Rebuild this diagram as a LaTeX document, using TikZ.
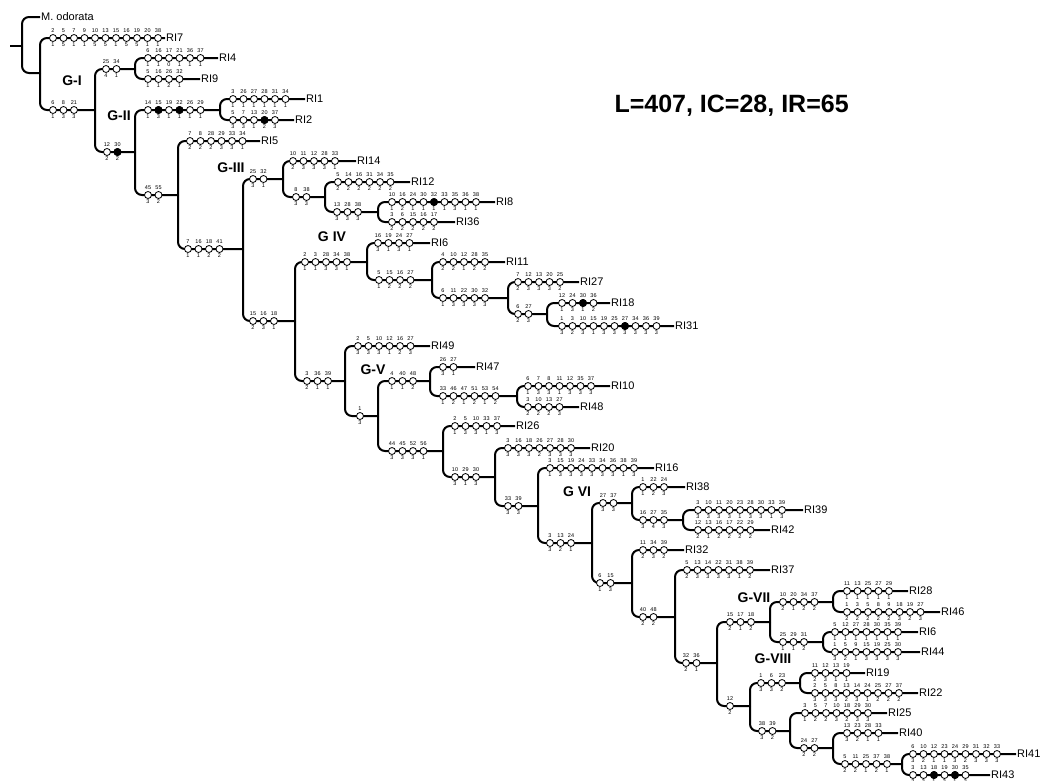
\documentclass[tikz,border=0pt]{standalone}
\usepackage{fontspec}
\setmainfont{Liberation Sans}
\usepackage{tikz}

%% one row of character changes along a branch: id, first x, y, {char/state, ...}
\newcommand{\charrow}[4]{%
  \foreach \ci/\cs [count=\k] in {#4}
    \node[chr, label={[num, label distance=1.5pt]above:\ci},
          label={[num]below:\cs}] (#1-\k) at ({#2+(\k-1)*10.5}, #3) {};}
%% blacken some markers of a row
\newcommand{\fillchr}[2]{%
  \foreach \j in {#2}
    \node[chr, fill=black] (#1-\j-f) at (#1-\j) {};}

\begin{document}
\begin{tikzpicture}[
  x=1pt, y=-1pt,
  branch/.style={line width=2pt, rounded corners=7pt},
  leaf/.style={anchor=west, inner sep=1pt, font=\fontsize{11}{12}\selectfont},
  chr/.style={draw, circle, fill=white, line width=0.8pt,
              minimum size=7pt, inner sep=0pt},
  num/.style={font=\fontsize{5.5}{6}\selectfont, inner sep=0.3pt},
  grp/.style={font=\fontsize{14}{15}\selectfont\bfseries},
  stats/.style={anchor=west, font=\fontsize{25}{27}\selectfont\bfseries}
]
\useasboundingbox (0,0) rectangle (1045,780);

%% Internal nodes
\coordinate (stub) at (10,46);
\coordinate (n0)  at (22,46);
\coordinate (n1)  at (40,73);
\coordinate (n2)  at (95,110);
\coordinate (n3)  at (135,69);
\coordinate (n4)  at (135,152);
\coordinate (n5)  at (220,110);
\coordinate (n6)  at (178,195);
\coordinate (n7)  at (243,249);
\coordinate (n8)  at (283,179);
\coordinate (n9)  at (295,321);
\coordinate (n10) at (325,197);
\coordinate (n11) at (378,212);
\coordinate (n12) at (367,262);
\coordinate (n13) at (432,280);
\coordinate (n14) at (508,298);
\coordinate (n15) at (547,314);
\coordinate (n16) at (345,381);
\coordinate (n17) at (378,416);
\coordinate (n18) at (430,381);
\coordinate (n19) at (517,396);
\coordinate (n20) at (443,451);
\coordinate (n21) at (495,477);
\coordinate (n22) at (538,506);
\coordinate (n23) at (592,543);
\coordinate (n24) at (632,503);
\coordinate (n25) at (683,520);
\coordinate (n26) at (632,583);
\coordinate (n27) at (675,617);
\coordinate (n28) at (717,663);
\coordinate (n29) at (770,622);
\coordinate (n30) at (833,602);
\coordinate (n31) at (823,642);
\coordinate (n32) at (750,706);
\coordinate (n33) at (800,683);
\coordinate (n34) at (790,731);
\coordinate (n35) at (833,748);
\coordinate (n36) at (902,764);

%% Terminals
\node[leaf] (modor) at (40,17)   {M. odorata};
\node[leaf] (ri7)  at (165,38)   {RI7};
\node[leaf] (ri4)  at (218,58)   {RI4};
\node[leaf] (ri9)  at (200,79)   {RI9};
\node[leaf] (ri1)  at (305,99)   {RI1};
\node[leaf] (ri2)  at (294,120)  {RI2};
\node[leaf] (ri5)  at (260,141)  {RI5};
\node[leaf] (ri14) at (356,161)  {RI14};
\node[leaf] (ri12) at (410,182)  {RI12};
\node[leaf] (ri8)  at (495,202)  {RI8};
\node[leaf] (ri36) at (455,222)  {RI36};
\node[leaf] (ri6)  at (430,243)  {RI6};
\node[leaf] (ri11) at (505,262)  {RI11};
\node[leaf] (ri27) at (579,282)  {RI27};
\node[leaf] (ri18) at (610,303)  {RI18};
\node[leaf] (ri31) at (674,326)  {RI31};
\node[leaf] (ri49) at (430,346)  {RI49};
\node[leaf] (ri47) at (475,367)  {RI47};
\node[leaf] (ri10) at (610,386)  {RI10};
\node[leaf] (ri48) at (579,407)  {RI48};
\node[leaf] (ri26) at (515,426)  {RI26};
\node[leaf] (ri20) at (590,448)  {RI20};
\node[leaf] (ri16) at (654,468)  {RI16};
\node[leaf] (ri38) at (685,487)  {RI38};
\node[leaf] (ri39) at (803,510)  {RI39};
\node[leaf] (ri42) at (770,530)  {RI42};
\node[leaf] (ri32) at (684,550)  {RI32};
\node[leaf] (ri37) at (770,570)  {RI37};
\node[leaf] (ri28) at (908,591)  {RI28};
\node[leaf] (ri46) at (940,612)  {RI46};
\node[leaf] (ri6b) at (918,632)  {RI6};
\node[leaf] (ri44) at (920,652)  {RI44};
\node[leaf] (ri19) at (865,673)  {RI19};
\node[leaf] (ri22) at (918,693)  {RI22};
\node[leaf] (ri25) at (887,713)  {RI25};
\node[leaf] (ri40) at (898,733)  {RI40};
\node[leaf] (ri41) at (1016,754) {RI41};
\node[leaf] (ri43) at (990,775)  {RI43};

%% Branches
\draw[branch] (stub) -- (n0);
\draw[branch] (n0) |- (modor.west);  \draw[branch] (n0) |- (n1);
\draw[branch] (n1) |- (ri7.west);    \draw[branch] (n1) |- (n2);
\draw[branch] (n2) |- (n3);          \draw[branch] (n2) |- (n4);
\draw[branch] (n3) |- (ri4.west);    \draw[branch] (n3) |- (ri9.west);
\draw[branch] (n4) |- (n5);          \draw[branch] (n4) |- (n6);
\draw[branch] (n5) |- (ri1.west);    \draw[branch] (n5) |- (ri2.west);
\draw[branch] (n6) |- (ri5.west);    \draw[branch] (n6) |- (n7);
\draw[branch] (n7) |- (n8);          \draw[branch] (n7) |- (n9);
\draw[branch] (n8) |- (ri14.west);   \draw[branch] (n8) |- (n10);
\draw[branch] (n10) |- (ri12.west);  \draw[branch] (n10) |- (n11);
\draw[branch] (n11) |- (ri8.west);   \draw[branch] (n11) |- (ri36.west);
\draw[branch] (n9) |- (n12);         \draw[branch] (n9) |- (n16);
\draw[branch] (n12) |- (ri6.west);   \draw[branch] (n12) |- (n13);
\draw[branch] (n13) |- (ri11.west);  \draw[branch] (n13) |- (n14);
\draw[branch] (n14) |- (ri27.west);  \draw[branch] (n14) |- (n15);
\draw[branch] (n15) |- (ri18.west);  \draw[branch] (n15) |- (ri31.west);
\draw[branch] (n16) |- (ri49.west);  \draw[branch] (n16) |- (n17);
\draw[branch] (n17) |- (n18);        \draw[branch] (n17) |- (n20);
\draw[branch] (n18) |- (ri47.west);  \draw[branch] (n18) |- (n19);
\draw[branch] (n19) |- (ri10.west);  \draw[branch] (n19) |- (ri48.west);
\draw[branch] (n20) |- (ri26.west);  \draw[branch] (n20) |- (n21);
\draw[branch] (n21) |- (ri20.west);  \draw[branch] (n21) |- (n22);
\draw[branch] (n22) |- (ri16.west);  \draw[branch] (n22) |- (n23);
\draw[branch] (n23) |- (n24);        \draw[branch] (n23) |- (n26);
\draw[branch] (n24) |- (ri38.west);  \draw[branch] (n24) |- (n25);
\draw[branch] (n25) |- (ri39.west);  \draw[branch] (n25) |- (ri42.west);
\draw[branch] (n26) |- (ri32.west);  \draw[branch] (n26) |- (n27);
\draw[branch] (n27) |- (ri37.west);  \draw[branch] (n27) |- (n28);
\draw[branch] (n28) |- (n29);        \draw[branch] (n28) |- (n32);
\draw[branch] (n29) |- (n30);        \draw[branch] (n29) |- (n31);
\draw[branch] (n30) |- (ri28.west);  \draw[branch] (n30) |- (ri46.west);
\draw[branch] (n31) |- (ri6b.west);  \draw[branch] (n31) |- (ri44.west);
\draw[branch] (n32) |- (n33);        \draw[branch] (n32) |- (n34);
\draw[branch] (n33) |- (ri19.west);  \draw[branch] (n33) |- (ri22.west);
\draw[branch] (n34) |- (ri25.west);  \draw[branch] (n34) |- (n35);
\draw[branch] (n35) |- (ri40.west);  \draw[branch] (n35) |- (n36);
\draw[branch] (n36) |- (ri41.west);  \draw[branch] (n36) |- (ri43.west);

%% Character changes
\charrow{e1}{53}{110}{6/1, 8/3, 21/3}
\charrow{ri7}{53}{38}{2/1, 5/5, 7/1, 9/1, 10/5, 13/5, 15/1, 16/5, 19/5, 20/1, 38/1}
\charrow{e2}{106}{69}{25/4, 34/1}
\charrow{ri4}{148}{58}{6/1, 16/1, 17/0, 21/1, 36/1, 37/1}
\charrow{ri9}{148}{79}{5/1, 16/1, 26/2, 32/1}
\charrow{e3}{107}{152}{12/2, 30/2}
\fillchr{e3}{2}
\charrow{e4}{148}{110}{14/1, 15/3, 19/1, 22/1, 26/1, 29/1}
\fillchr{e4}{2,4}
\charrow{ri1}{233}{99}{3/1, 26/1, 27/1, 28/1, 31/1, 34/1}
\charrow{ri2}{233}{120}{5/3, 7/3, 13/1, 20/2, 37/3}
\fillchr{ri2}{4}
\charrow{e5}{148}{195}{45/3, 55/2}
\charrow{ri5}{190}{141}{7/2, 8/2, 28/2, 29/3, 33/3, 34/1}
\charrow{e6}{188}{249}{7/1, 16/1, 18/2, 41/2}
\charrow{e7}{253}{179}{25/3, 32/1}
\charrow{ri14}{293}{161}{10/2, 11/3, 12/3, 28/3, 33/1}
\charrow{e8}{296}{197}{8/3, 38/3}
\charrow{ri12}{338}{182}{5/2, 14/2, 16/2, 31/2, 34/2, 35/2}
\charrow{e9}{337}{212}{13/3, 28/3, 38/3}
\charrow{ri8}{392}{202}{10/1, 16/2, 24/1, 30/1, 32/1, 33/1, 35/3, 36/1, 38/1}
\fillchr{ri8}{5}
\charrow{ri36}{392}{222}{3/2, 6/2, 15/2, 16/2, 17/2}
\charrow{e10}{253}{321}{15/2, 16/3, 18/1}
\charrow{e11}{305}{262}{2/1, 3/1, 28/3, 34/3, 38/1}
\charrow{ri6}{378}{243}{16/3, 19/1, 24/3, 27/1}
\charrow{e12}{379}{280}{5/1, 15/2, 16/2, 27/2}
\charrow{ri11}{443}{262}{4/2, 10/2, 12/1, 28/2, 35/2}
\charrow{e13}{443}{298}{6/1, 11/3, 22/3, 30/3, 32/3}
\charrow{ri27}{518}{282}{7/2, 12/3, 13/3, 20/3, 25/2}
\charrow{e14}{518}{314}{6/2, 27/3}
\charrow{ri18}{562}{303}{12/1, 24/3, 30/1, 36/2}
\fillchr{ri18}{3}
\charrow{ri31}{562}{326}{1/3, 3/2, 10/3, 15/1, 19/3, 25/3, 27/3, 34/3, 36/3, 39/3}
\fillchr{ri31}{7}
\charrow{e15}{307}{381}{3/2, 36/1, 39/1}
\charrow{ri49}{358}{346}{2/3, 5/3, 10/3, 12/1, 16/2, 27/3}
\charrow{e16}{360}{416}{1/3}
\charrow{e17}{392}{381}{4/1, 40/1, 48/2}
\charrow{ri47}{443}{367}{26/3, 27/1}
\charrow{e18}{443}{396}{33/1, 46/2, 47/1, 51/2, 53/1, 54/2}
\charrow{ri10}{528}{386}{6/1, 7/3, 8/3, 11/1, 12/3, 35/3, 37/3}
\charrow{ri48}{528}{407}{3/2, 10/2, 13/2, 27/3}
\charrow{e19}{392}{451}{44/3, 45/3, 52/3, 56/1}
\charrow{ri26}{455}{426}{2/1, 5/3, 10/3, 33/1, 37/3}
\charrow{e20}{455}{477}{10/3, 29/1, 30/3}
\charrow{ri20}{508}{448}{3/3, 16/3, 18/3, 26/2, 27/3, 28/3, 30/3}
\charrow{e21}{508}{506}{33/3, 39/3}
\charrow{ri16}{550}{468}{3/1, 15/3, 19/3, 24/3, 33/3, 34/3, 36/3, 38/1, 39/3}
\charrow{e22}{550}{543}{3/3, 13/2, 24/1}
\charrow{e23}{603}{503}{27/3, 37/3}
\charrow{ri38}{643}{487}{1/1, 22/2, 24/3}
\charrow{e24}{643}{520}{16/3, 27/4, 35/3}
\charrow{ri39}{698}{510}{3/3, 10/3, 11/3, 20/3, 23/1, 28/3, 30/3, 33/1, 39/3}
\charrow{ri42}{698}{530}{12/2, 13/1, 16/2, 17/2, 22/2, 29/2}
\charrow{e25}{600}{583}{6/1, 15/3}
\charrow{ri32}{643}{550}{11/2, 34/3, 39/2}
\charrow{e26}{643}{617}{40/2, 48/2}
\charrow{ri37}{687}{570}{5/2, 13/3, 14/3, 22/3, 31/3, 38/1, 39/2}
\charrow{e27}{686}{663}{32/2, 36/1}
\charrow{e28}{730}{622}{15/2, 17/1, 18/2}
\charrow{e29}{783}{602}{10/2, 20/1, 34/2, 37/2}
\charrow{ri28}{847}{591}{11/1, 13/1, 25/1, 27/1, 29/1}
\charrow{ri46}{847}{612}{1/2, 3/2, 5/2, 8/2, 9/2, 18/3, 19/2, 27/3}
\charrow{e30}{783}{642}{25/1, 29/1, 31/2}
\charrow{ri6b}{835}{632}{5/1, 12/1, 27/1, 28/1, 30/1, 35/1, 39/1}
\charrow{ri44}{835}{652}{1/3, 5/2, 9/1, 15/3, 19/3, 25/3, 30/3}
\charrow{e31}{730}{706}{12/2}
\charrow{e32}{761}{683}{1/3, 6/3, 23/2}
\charrow{ri19}{815}{673}{11/2, 12/3, 13/1, 19/1}
\charrow{ri22}{815}{693}{2/3, 5/3, 8/3, 13/2, 14/3, 24/1, 25/2, 27/2, 37/2}
\charrow{e33}{762}{731}{38/3, 39/2}
\charrow{ri25}{805}{713}{3/1, 5/2, 7/2, 10/3, 18/2, 29/3, 30/3}
\charrow{e34}{804}{748}{24/2, 27/2}
\charrow{ri40}{847}{733}{13/3, 23/2, 28/1, 33/1}
\charrow{e35}{845}{764}{5/2, 11/2, 25/1, 37/2, 38/1}
\charrow{ri41}{913}{754}{6/3, 10/2, 12/1, 23/1, 24/3, 29/2, 31/3, 32/3, 33/3}
\charrow{ri43}{913}{775}{3/3, 13/3, 18/1, 19/3, 30/1, 35/3}
\fillchr{ri43}{3,5}

%% Groups
\node[grp] (gI)    at (72,81)   {G-I};
\node[grp] (gII)   at (119,116) {G-II};
\node[grp] (gIII)  at (231,168) {G-III};
\node[grp] (gIV)   at (332,237) {G IV};
\node[grp] (gV)    at (373,370) {G-V};
\node[grp] (gVI)   at (577,492) {G VI};
\node[grp] (gVII)  at (754,598) {G-VII};
\node[grp] (gVIII) at (773,659) {G-VIII};

%% Tree statistics
\node[stats] (stats) at (611,106) {L=407, IC=28, IR=65};

\end{tikzpicture}
\end{document}
